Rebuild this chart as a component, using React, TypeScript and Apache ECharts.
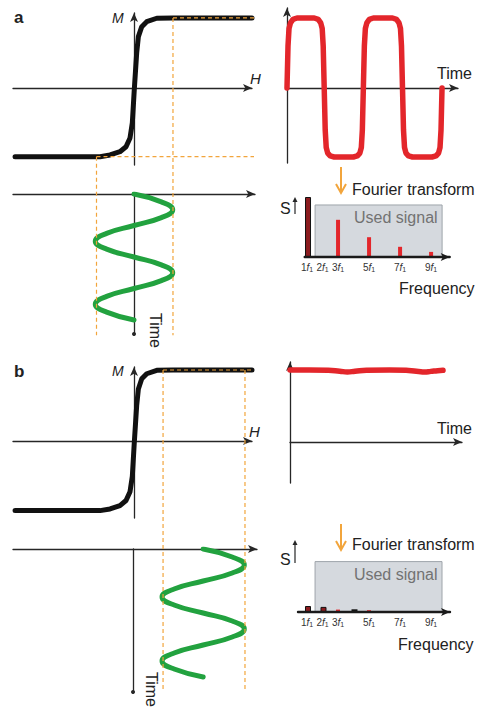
import React, { useEffect, useRef } from "react";
import * as echarts from "echarts";

// ---------- data ----------
// Magnetisation curve M(H) (normalised), same particle response in a and b
const HYSTERESIS: [number, number][] = [
  [-0.983, -0.981], [-0.281, -0.981], [-0.198, -0.957], [-0.116, -0.91],
  [-0.066, -0.839], [-0.033, -0.714], [-0.014, -0.5], [0.002, -0.029],
  [0.022, 0.5], [0.036, 0.733], [0.064, 0.876], [0.105, 0.947],
  [0.188, 0.996], [0.322, 1.0], [0.975, 1.0],
];

// Drive field H(t): panel a centred at 0, panel b offset (t in periods)
const DRIVE_A: [number, number][] = [
  [0, 0], [0.226, 0.125], [0.32, 0.25], [0.226, 0.375], [0, 0.5],
  [-0.226, 0.625], [-0.32, 0.75], [-0.226, 0.875], [0, 1.0],
  [0.226, 1.125], [0.32, 1.25], [0.226, 1.375], [0, 1.5],
  [-0.226, 1.625], [-0.32, 1.75], [-0.226, 1.875], [0, 2.0],
];
const DRIVE_B: [number, number][] = [
  [0.58, 0], [0.82, 0.125], [0.92, 0.25], [0.82, 0.375], [0.58, 0.5],
  [0.34, 0.625], [0.24, 0.75], [0.34, 0.875], [0.58, 1.0],
  [0.82, 1.125], [0.92, 1.25], [0.82, 1.375], [0.58, 1.5],
  [0.34, 1.625], [0.24, 1.75], [0.34, 1.875], [0.58, 2.0],
];

// Magnetisation response M(t)
const RESPONSE_A: [number, number][] = [
  [0, 0], [0.013, 0.6], [0.026, 0.85], [0.045, 0.93], [0.077, 0.98], [0.129, 1.0],
  [0.351, 1.0], [0.403, 0.98], [0.435, 0.93], [0.454, 0.85], [0.467, 0.6], [0.48, 0],
  [0.493, -0.6], [0.506, -0.85], [0.525, -0.93], [0.557, -0.97], [0.609, -0.985],
  [0.856, -0.985], [0.908, -0.97], [0.94, -0.93], [0.959, -0.85], [0.972, -0.6], [0.985, 0],
  [0.998, 0.6], [1.011, 0.85], [1.03, 0.93], [1.062, 0.98], [1.114, 1.0],
  [1.361, 1.0], [1.413, 0.98], [1.445, 0.93], [1.464, 0.85], [1.477, 0.6], [1.49, 0],
  [1.503, -0.6], [1.516, -0.85], [1.535, -0.93], [1.567, -0.97], [1.619, -0.985],
  [1.871, -0.985], [1.923, -0.97], [1.955, -0.93], [1.974, -0.85], [1.987, -0.6], [2.0, 0],
];
const RESPONSE_B: [number, number][] = [
  [0, 1.0], [0.25, 1.0], [0.5, 0.995], [0.65, 0.982], [0.75, 0.972], [0.85, 0.982],
  [1.0, 0.996], [1.3, 1.0], [1.55, 0.992], [1.68, 0.978], [1.76, 0.972], [1.84, 0.98],
  [1.93, 0.99], [2.0, 0.995],
];

// Saturation levels / field amplitudes marked with dashed guides
const GUIDES_A = { hLow: -0.31, hHigh: 0.322, mTop: 1.0, mBottom: -0.981, hEnd: 2.53, mEnd: -3.53 };
const GUIDES_B = { hLow: 0.24, hHigh: 0.917, mTop: 1.0, hEnd: 2.7, mEnd: -3.51 };

// Fourier spectra: [harmonic n, amplitude S]
const HARMONIC_TICKS = [1, 2, 3, 5, 7, 9];
const SPECTRUM_A: [number, number][] = [[1, 1.0], [3, 0.62], [5, 0.33], [7, 0.17], [9, 0.085]];
const SPECTRUM_B: [number, number][] = [[1, 0.1], [2, 0.085], [3, 0.04], [4, 0.045], [5, 0.03]];
const USED_BAND_A = { from: 1.52, to: 9.71, top: 0.867 };
const USED_BAND_B = { from: 1.52, to: 9.71, top: 0.84 };

// ---------- styles ----------
const FONT = "'Liberation Sans', Arial, Helvetica, sans-serif";
const INK = "#262626";
const ORANGE = "#f2a53c";
const RED = "#e3262b";
const DARK_RED = "#8c1c1f";
const GREEN = "#22a23f";

function axis(gridIndex: number, min: number, max: number, symbol: string[], extra: any = {}) {
  return {
    type: "value",
    gridIndex,
    min,
    max,
    axisLine: {
      show: true,
      onZero: true,
      symbol,
      symbolSize: symbol.includes("circle") ? [4, 4] : [6, 9],
      lineStyle: { color: INK, width: 1.3 },
    },
    axisTick: { show: false },
    axisLabel: { show: false },
    splitLine: { show: false },
    ...extra,
  };
}

function guide(xi: number, data: [number, number][]) {
  return {
    type: "line",
    xAxisIndex: xi,
    yAxisIndex: xi,
    data,
    clip: false,
    symbol: "none",
    silent: true,
    z: 4,
    lineStyle: { color: ORANGE, width: 1.2, type: [4, 3] },
  };
}

function curve(xi: number, data: [number, number][], color: string, width: number, smooth: any = false) {
  return {
    type: "line",
    xAxisIndex: xi,
    yAxisIndex: xi,
    data,
    symbol: "none",
    smooth,
    silent: true,
    z: 3,
    lineStyle: { color, width, cap: "round", join: "round" },
  };
}

function barStyle(n: number) {
  if (n <= 2) return { color: DARK_RED, borderColor: "#111", borderWidth: 1 };
  if (n === 4) return { color: "#111" };
  return { color: RED };
}

function spectrum(xi: number, data: [number, number][], band: { from: number; to: number; top: number }) {
  const wide = data.filter(([n]) => n <= 2 || n === 4);
  const narrow = data.filter(([n]) => !(n <= 2 || n === 4));
  return [
    {
      type: "bar",
      xAxisIndex: xi,
      yAxisIndex: xi,
      barWidth: 6,
      barGap: "-100%",
      silent: true,
      z: 3,
      data: wide.map(([n, s]) => ({ value: [n, s], itemStyle: barStyle(n) })),
      markArea: {
        silent: true,
        itemStyle: { color: "#d5d9de", borderColor: "#9ea4aa", borderWidth: 1 },
        label: {
          show: true,
          position: "insideTopRight",
          distance: 5,
          color: "#727272",
          fontSize: 16,
          fontFamily: FONT,
        },
        data: [[{ name: "Used signal", xAxis: band.from, yAxis: band.top }, { xAxis: band.to, yAxis: 0 }]],
      },
    },
    {
      type: "bar",
      xAxisIndex: xi,
      yAxisIndex: xi,
      barWidth: 4,
      barGap: "-100%",
      silent: true,
      z: 3,
      data: narrow.map(([n, s]) => ({ value: [n, s], itemStyle: barStyle(n) })),
    },
  ];
}

const harmonicLabel = {
  show: true,
  margin: 4,
  customValues: HARMONIC_TICKS,
  formatter: (v: number) => `{n|${v}}{f|f}{s|1}`,
  rich: {
    n: { fontSize: 10, fontFamily: FONT, color: "#333", lineHeight: 12 },
    f: { fontSize: 10, fontFamily: FONT, fontStyle: "italic", color: "#333", lineHeight: 12 },
    s: { fontSize: 7, fontFamily: FONT, color: "#333", lineHeight: 7, verticalAlign: "bottom" },
  },
};

function text(t: string, x: number, y: number, size: number, extra: any = {}, rot = 0) {
  return {
    type: "text",
    x,
    y,
    rotation: rot,
    silent: true,
    z: 10,
    style: {
      text: t,
      fill: "#222",
      fontSize: size,
      fontFamily: FONT,
      align: "left",
      verticalAlign: "middle",
      ...extra,
    },
  };
}

function downArrow(x: number, y0: number, y1: number) {
  return [
    { type: "line", silent: true, z: 10, shape: { x1: x, y1: y0, x2: x, y2: y1 - 1 }, style: { stroke: ORANGE, lineWidth: 2 } },
    {
      type: "polyline",
      silent: true,
      z: 10,
      shape: { points: [[x - 5, y1 - 9], [x, y1], [x + 5, y1 - 9]] },
      style: { stroke: ORANGE, lineWidth: 2, fill: "none" },
    },
  ];
}

function upArrow(x: number, y0: number, y1: number) {
  return [
    { type: "line", silent: true, z: 10, shape: { x1: x, y1: y0, x2: x, y2: y1 + 3 }, style: { stroke: INK, lineWidth: 1.2 } },
    {
      type: "polygon",
      silent: true,
      z: 10,
      shape: { points: [[x - 2.5, y1 + 5], [x, y1], [x + 2.5, y1 + 5]] },
      style: { fill: INK },
    },
  ];
}

function buildOption() {
  const grids = [
    { left: 13, top: 13, width: 239, height: 152 },
    { left: 287, top: 8, width: 171, height: 155 },
    { left: 13, top: 194, width: 242, height: 140 },
    { left: 304.7, top: 197, width: 145, height: 60 },
    { left: 13, top: 367, width: 239, height: 151 },
    { left: 290, top: 362, width: 172, height: 121 },
    { left: 13, top: 549, width: 244, height: 143 },
    { left: 298, top: 552, width: 152, height: 60 },
  ].map((g) => ({ ...g, containLabel: false, outerBoundsMode: "none", show: false }));

  const specAxisLine = {
    show: true,
    onZero: true,
    symbol: ["none", "arrow"],
    symbolSize: [6, 9],
    lineStyle: { color: "#1a1a1a", width: 2.4 },
  };
  const arrowEnd = ["none", "arrow"];
  const dotEnd = ["circle", "none"]; // inverse time axes: dot at the bottom

  const xAxis = [
    axis(0, -1, 0.975, arrowEnd),
    axis(1, 0, 2.206, arrowEnd),
    axis(2, -1, 1, arrowEnd),
    axis(3, 0.85, 10.2, arrowEnd, { axisLine: specAxisLine, axisLabel: harmonicLabel, z: 5 }),
    axis(4, -1, 0.975, arrowEnd),
    axis(5, 0, 2.248, arrowEnd),
    axis(6, -0.992, 1.025, arrowEnd),
    axis(7, 0.42, 10.226, arrowEnd, { axisLine: specAxisLine, axisLabel: harmonicLabel, z: 5 }),
  ];
  const yAxis = [
    axis(0, -1.1, 1.071, arrowEnd),
    axis(1, -1.071, 1.143, arrowEnd),
    axis(2, 0, 2.222, dotEnd, { inverse: true }),
    axis(3, 0, 1, ["none", "none"], { show: false }),
    axis(4, -1.085, 1.042, arrowEnd),
    axis(5, -0.57, 1.11, arrowEnd),
    axis(6, 0, 2.234, dotEnd, { inverse: true }),
    axis(7, 0, 1, ["none", "none"], { show: false }),
  ];

  const ga = GUIDES_A;
  const gb = GUIDES_B;
  const series: any[] = [
    // panel a
    curve(0, HYSTERESIS, "#111", 5),
    guide(0, [[ga.hHigh, ga.mTop], [ga.hEnd, ga.mTop]]),
    guide(0, [[ga.hLow, ga.mBottom], [ga.hEnd, ga.mBottom]]),
    guide(0, [[ga.hLow, ga.mBottom], [ga.hLow, ga.mEnd]]),
    guide(0, [[ga.hHigh, ga.mTop], [ga.hHigh, ga.mEnd]]),
    curve(1, RESPONSE_A, RED, 5.5),
    curve(2, DRIVE_A, GREEN, 5, true),
    ...spectrum(3, SPECTRUM_A, USED_BAND_A),
    // panel b
    curve(4, HYSTERESIS, "#111", 5),
    guide(4, [[gb.hLow, gb.mTop], [gb.hEnd, gb.mTop]]),
    guide(4, [[gb.hLow, gb.mTop], [gb.hLow, gb.mEnd]]),
    guide(4, [[gb.hHigh, gb.mTop], [gb.hHigh, gb.mEnd]]),
    curve(5, RESPONSE_B, RED, 5.5, true),
    curve(6, DRIVE_B, GREEN, 5, true),
    ...spectrum(7, SPECTRUM_B, USED_BAND_B),
  ];

  const graphic: any[] = [
    text("a", 14, 17, 17, { fontWeight: "bold" }),
    text("M", 112, 18, 14, { fontStyle: "italic" }),
    text("H", 250, 78, 15, { fontStyle: "italic" }),
    text("Time", 437, 73, 16),
    text("Time", 155, 313, 16, {}, -Math.PI / 2),
    text("Fourier transform", 352, 189, 16),
    text("S", 280, 208, 16),
    text("Frequency", 399, 288, 16),
    ...downArrow(341, 167, 193),
    ...upArrow(295, 214, 197),

    text("b", 14, 371, 17, { fontWeight: "bold" }),
    text("M", 112, 371, 14, { fontStyle: "italic" }),
    text("H", 249, 431, 15, { fontStyle: "italic" }),
    text("Time", 437, 428, 16),
    text("Time", 151, 672, 16, {}, -Math.PI / 2),
    text("Fourier transform", 352, 544, 16),
    text("S", 280, 559, 16),
    text("Frequency", 398, 644, 16),
    ...downArrow(341, 524, 550),
    ...upArrow(295, 563, 540),
  ];

  return {
    animation: false,
    backgroundColor: "#ffffff",
    grid: grids,
    xAxis,
    yAxis,
    series,
    graphic,
  };
}

export default function App() {
  const ref = useRef<HTMLDivElement>(null);
  useEffect(() => {
    if (!ref.current) return;
    const chart = echarts.init(ref.current, null, { renderer: "svg" });
    chart.setOption(buildOption() as any);
    return () => chart.dispose();
  }, []);
  return (
    <div
      ref={ref}
      style={{ position: "fixed", left: 0, top: 0, width: 480, height: 707, background: "#fff" }}
    />
  );
}
